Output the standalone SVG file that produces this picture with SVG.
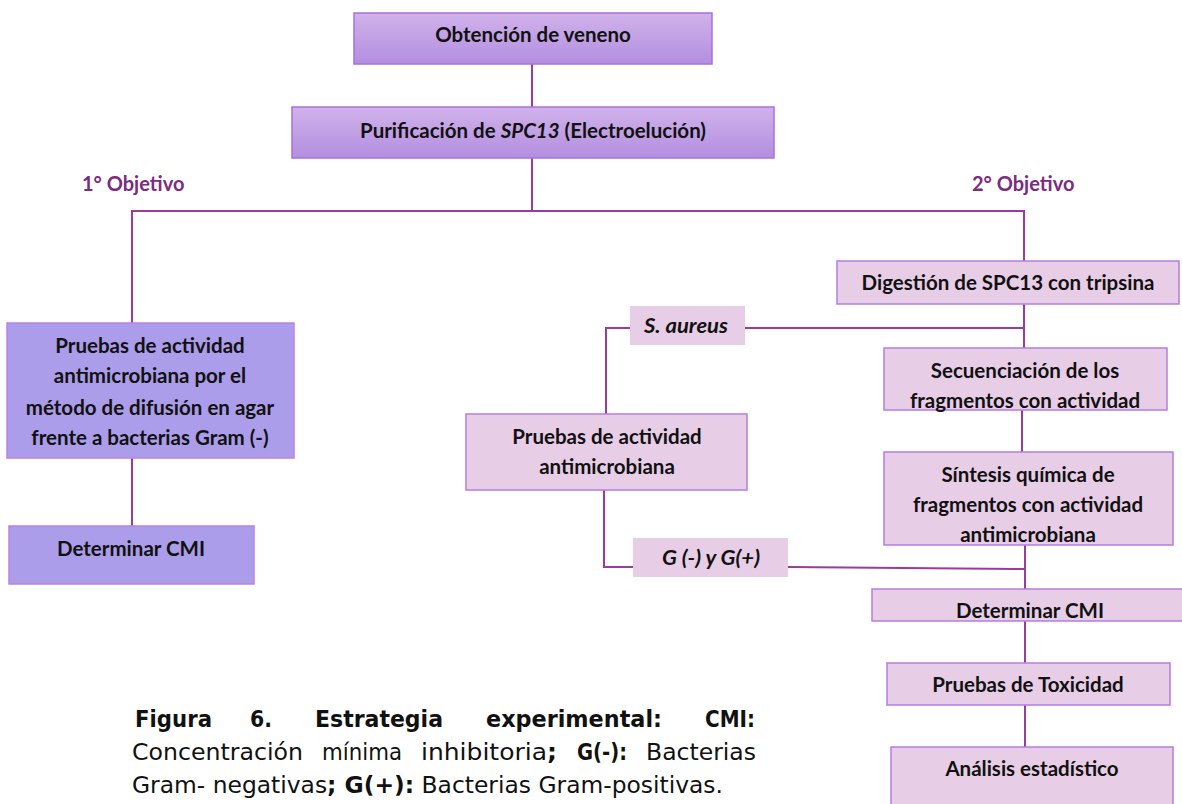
<svg xmlns="http://www.w3.org/2000/svg" width="1182" height="804" viewBox="0 0 1182 804">
<defs>
<linearGradient id="gTop" x1="0" y1="0" x2="0" y2="1">
<stop offset="0" stop-color="#d0b2ea"/>
<stop offset="1" stop-color="#b38ee0"/>
</linearGradient>
<style>
.top{fill:url(#gTop);stroke:#a970da;stroke-width:1.5}
.blue{fill:#ab9de9;stroke:#bb84e2;stroke-width:1.5}
.pink{fill:#e8cde7;stroke:#b57ddf;stroke-width:1.5}
.t{font-family:Lato,"Open Sans",sans-serif;font-weight:bold;font-size:20.5px;fill:#111;text-anchor:middle}
.it{font-style:italic}
.obj{font-family:Lato,"Open Sans",sans-serif;font-weight:bold;font-size:20px;fill:#7b2b80}
.ln{fill:none;stroke:#9b3a9f;stroke-width:2}
.cap{font-family:"DejaVu Sans",Verdana,sans-serif;font-size:23.5px;fill:#111}
.b{font-weight:bold}
</style>
</defs>
<rect width="1182" height="804" fill="#fff"/>
<g id="connectors">
<line class="ln" x1="532" y1="64" x2="532" y2="107"/>
<line class="ln" x1="532" y1="158" x2="532" y2="211"/>
<polyline class="ln" points="132,323 132,211 1024,211 1024,261"/>
<line class="ln" x1="132" y1="458" x2="132" y2="526"/>
<line class="ln" x1="1024" y1="304" x2="1024" y2="348"/>
<line class="ln" x1="745" y1="328" x2="1024" y2="328"/>
<polyline class="ln" points="630,328 606,328 606,414"/>
<polyline class="ln" points="604,490 604,567 633,567"/>
<line class="ln" x1="788" y1="567" x2="1025" y2="569"/>
<line class="ln" x1="1022" y1="410" x2="1022" y2="452"/>
<line class="ln" x1="1025" y1="545" x2="1025" y2="589"/>
<line class="ln" x1="1025" y1="621" x2="1025" y2="663"/>
<line class="ln" x1="1025" y1="705" x2="1025" y2="747"/>
</g>
<g id="n-obtencion">
<rect class="top" x="354" y="13" width="358" height="51"/>
<text class="t" x="533" y="42">Obtención de veneno</text>
</g>
<g id="n-purificacion">
<rect class="top" x="292" y="107" width="482" height="51"/>
<text class="t" x="533" y="138">Purificación de <tspan class="it">SPC13</tspan> (Electroelución)</text>
</g>
<g id="lbl-obj1"><text class="obj" x="82" y="191">1° Objetivo</text></g>
<g id="lbl-obj2"><text class="obj" x="972" y="191">2° Objetivo</text></g>
<g id="n-pruebas-difusion">
<rect class="blue" x="7" y="323" width="287" height="135"/>
<text class="t" x="150" y="353">Pruebas de actividad</text>
<text class="t" x="150" y="383">antimicrobiana por el</text>
<text class="t" x="150" y="415">método de difusión en agar</text>
<text class="t" x="150" y="445">frente a bacterias Gram (-)</text>
</g>
<g id="n-cmi1">
<rect class="blue" x="9" y="526" width="245" height="58"/>
<text class="t" x="131" y="556">Determinar CMI</text>
</g>
<g id="n-saureus">
<rect class="pink" x="630" y="306" width="115" height="39" style="stroke:none"/>
<text class="t it" x="686" y="333" textLength="84" lengthAdjust="spacingAndGlyphs">S. aureus</text>
</g>
<g id="n-pruebas-mid">
<rect class="pink" x="466" y="414" width="281" height="76"/>
<text class="t" x="607" y="444">Pruebas de actividad</text>
<text class="t" x="607" y="474">antimicrobiana</text>
</g>
<g id="n-gram">
<rect class="pink" x="633" y="538" width="155" height="39" style="stroke:none"/>
<text class="t it" x="711" y="565" textLength="98" lengthAdjust="spacingAndGlyphs">G (-) y G(+)</text>
</g>
<g id="n-digestion">
<rect class="pink" x="837" y="261" width="342" height="43"/>
<text class="t" x="1008" y="290">Digestión de SPC13 con tripsina</text>
</g>
<g id="n-secuenciacion">
<rect class="pink" x="884" y="348" width="283" height="62"/>
<text class="t" x="1025" y="378">Secuenciación de los</text>
<text class="t" x="1025" y="408">fragmentos con actividad</text>
</g>
<g id="n-sintesis">
<rect class="pink" x="884" y="452" width="289" height="93"/>
<text class="t" x="1028" y="482">Síntesis química de</text>
<text class="t" x="1028" y="512">fragmentos con actividad</text>
<text class="t" x="1028" y="542">antimicrobiana</text>
</g>
<g id="n-cmi2">
<rect class="pink" x="872" y="589" width="312" height="32"/>
<text class="t" x="1030" y="618">Determinar CMI</text>
</g>
<g id="n-toxicidad">
<rect class="pink" x="887" y="663" width="283" height="42"/>
<text class="t" x="1028" y="692">Pruebas de Toxicidad</text>
</g>
<g id="n-analisis">
<rect class="pink" x="891" y="747" width="282" height="60"/>
<text class="t" x="1032" y="776">Análisis estadístico</text>
</g>
<g id="caption">
<text class="cap b" x="135" y="727" textLength="77" lengthAdjust="spacingAndGlyphs">Figura</text>
<text class="cap b" x="250" y="727" textLength="22" lengthAdjust="spacingAndGlyphs">6.</text>
<text class="cap b" x="315" y="727" textLength="128" lengthAdjust="spacingAndGlyphs">Estrategia</text>
<text class="cap b" x="486" y="727" textLength="176" lengthAdjust="spacingAndGlyphs">experimental:</text>
<text class="cap b" x="705" y="727" textLength="50" lengthAdjust="spacingAndGlyphs">CMI:</text>
<text class="cap" x="132" y="760" textLength="171" lengthAdjust="spacingAndGlyphs">Concentración</text>
<text class="cap" x="322" y="760" textLength="80" lengthAdjust="spacingAndGlyphs">mínima</text>
<text class="cap" x="421" y="760" textLength="136" lengthAdjust="spacingAndGlyphs">inhibitoria<tspan class="b">;</tspan></text>
<text class="cap b" x="577" y="760" textLength="50" lengthAdjust="spacingAndGlyphs">G(-):</text>
<text class="cap" x="646" y="760" textLength="110" lengthAdjust="spacingAndGlyphs">Bacterias</text>
<text class="cap" x="132" y="793" textLength="591" lengthAdjust="spacingAndGlyphs">Gram- negativas<tspan class="b">; G(+):</tspan> Bacterias Gram-positivas.</text>
</g>
</svg>
